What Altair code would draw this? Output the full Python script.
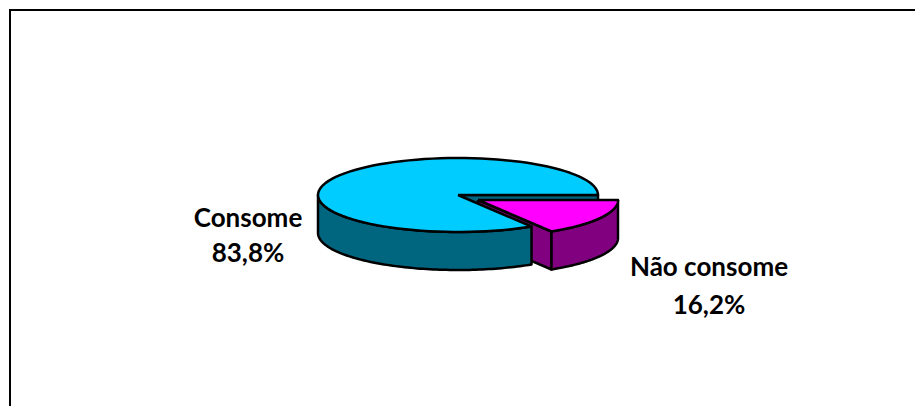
import math
import altair as alt
import pandas as pd

labels = ["Consome", "Não consome"]
shares = [83.8, 16.2]
share_text = ["83,8%", "16,2%"]
top_colors = ["#00CCFF", "#FF00FF"]
side_colors = ["#006680", "#800080"]

# Projection of the tilted pie on the page
CX, CY, RX, RY, DEPTH = 458, 195, 140, 37, 38
EXPLODE_X, EXPLODE_Y = 20, 5

sweep = 360 * shares[1] / sum(shares)


def rim(a0, a1, ox=0, oy=0, dy=0, n=90):
    pts = []
    for i in range(n + 1):
        t = math.radians(a0 + (a1 - a0) * i / n)
        pts.append((CX + ox + RX * math.cos(t), CY + oy + dy + RY * math.sin(t)))
    return pts


def wall(p, q, dy=DEPTH):
    return [p, q, (q[0], q[1] + dy), (p[0], p[1] + dy)]


c0 = (CX, CY)
c1 = (CX + EXPLODE_X, CY + EXPLODE_Y)
polys = [
    ("inner0", side_colors[0], wall(c0, rim(0, 0, n=1)[0])),
    ("cut1", side_colors[1], wall(c1, rim(sweep, sweep, EXPLODE_X, EXPLODE_Y, n=1)[0])),
    ("outer0", side_colors[0], rim(sweep, 180) + rim(180, sweep, dy=DEPTH)),
    ("top0", top_colors[0], [c0] + rim(sweep, 360)),
    ("outer1", side_colors[1], rim(0, sweep, EXPLODE_X, EXPLODE_Y)
     + rim(sweep, 0, EXPLODE_X, EXPLODE_Y, DEPTH)),
    ("top1", top_colors[1], [c1] + rim(0, sweep, EXPLODE_X, EXPLODE_Y)),
]

W, H = 907, 398
x_scale = alt.Scale(domain=[8, 8 + W], range=[0, W], nice=False, zero=False)
y_scale = alt.Scale(domain=[8, 8 + H], range=[0, H], nice=False, zero=False)
X = lambda f: alt.X(f, type="quantitative", scale=x_scale, axis=None)
Y = lambda f: alt.Y(f, type="quantitative", scale=y_scale, axis=None)

layers = []
for name, color, pts in polys:
    closed = list(pts) + [pts[0]]
    df = pd.DataFrame({"x": [p[0] for p in closed], "y": [p[1] for p in closed],
                       "o": range(len(closed))})
    layers.append(
        alt.Chart(df).mark_line(fill=color, stroke="black", strokeWidth=2.5, strokeJoin="round")
        .encode(x=X("x"), y=Y("y"), order=alt.Order("o:Q"))
    )

frame = pd.DataFrame({"x": [10, 10, 915], "y": [406, 10, 10], "o": [0, 1, 2]})
layers.append(
    alt.Chart(frame).mark_line(stroke="black", strokeWidth=2)
    .encode(x=X("x"), y=Y("y"), order=alt.Order("o:Q"))
)

text = pd.DataFrame({
    "t": [labels[0], share_text[0], labels[1], share_text[1]],
    "x": [248, 248, 709, 709],
    "y": [219, 254, 268, 306],
})
layers.append(
    alt.Chart(text).mark_text(font="Lato", fontWeight="bold", fontSize=26, color="black",
                              align="center", baseline="middle")
    .encode(x=X("x"), y=Y("y"), text="t:N")
)

chart = alt.layer(*layers).properties(
    width=W, height=H, padding=0, background="white",
    autosize=alt.AutoSizeParams(type="none"),
).configure_view(stroke=None)

chart.save("out.html", embed_options={"renderer": "svg", "actions": False})
